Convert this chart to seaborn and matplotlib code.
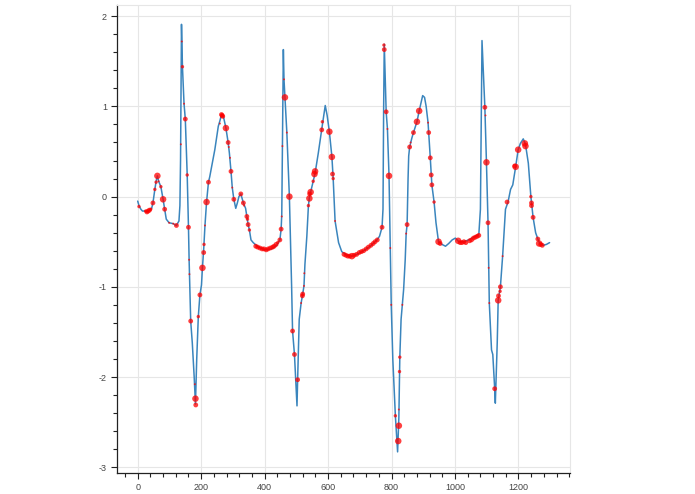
import numpy as np
import pandas as pd
import seaborn as sns
import matplotlib.pyplot as plt
from matplotlib.ticker import MultipleLocator, FuncFormatter

# line trace (x, y)
line_x = [0, 4, 10, 15, 22, 29, 38, 44, 48, 54, 58, 62, 66, 73, 80, 85, 90, 99, 112, 122,
          130, 133, 135, 138, 141, 146, 150, 156, 160, 162, 165, 167, 172, 178, 182, 186, 191, 196, 201, 204,
          208, 212, 217, 223, 227, 243, 254, 259, 264, 270, 278, 285, 289, 294, 298, 303, 309, 314, 319, 325,
          333, 340, 344, 348, 352, 357, 364, 380, 401, 422, 438, 448, 452, 454, 456, 459, 461, 464, 470, 478,
          485, 488, 494, 502, 504, 509, 515, 519, 524, 527, 533, 538, 541, 545, 550, 559, 569, 580, 583, 591,
          597, 604, 612, 616, 622, 633, 643, 659, 675, 691, 712, 733, 754, 762, 770, 773, 775, 777, 783, 787,
          792, 796, 799, 804, 812, 819, 823, 826, 830, 834, 838, 843, 846, 849, 852, 854, 857, 864, 869, 880,
          887, 898, 904, 909, 915, 917, 922, 925, 927, 934, 940, 948, 959, 970, 980, 991, 1001, 1012, 1027, 1043,
          1059, 1075, 1080, 1085, 1094, 1099, 1104, 1108, 1115, 1119, 1125, 1127, 1133, 1136, 1143, 1150, 1159, 1167, 1175, 1182,
          1191, 1199, 1206, 1215, 1222, 1231, 1239, 1246, 1254, 1261, 1267, 1278, 1288, 1298]
line_y = [-0.05, -0.10, -0.14, -0.16, -0.16, -0.17, -0.15, -0.13, -0.07, 0.08, 0.17, 0.23, 0.17, 0.11, -0.03, -0.14, -0.25, -0.29, -0.30, -0.32,
          -0.27, -0.10, 0.40, 1.91, 1.44, 1.03, 0.86, 0.24, -0.34, -0.70, -1.10, -1.38, -1.62, -2.00, -2.30, -1.80, -1.33, -1.09, -0.98, -0.79,
          -0.58, -0.32, -0.06, 0.16, 0.22, 0.52, 0.78, 0.84, 0.91, 0.89, 0.76, 0.60, 0.48, 0.28, 0.10, -0.03, -0.13, -0.07, 0.00, 0.03,
          -0.07, -0.13, -0.22, -0.31, -0.37, -0.48, -0.51, -0.56, -0.59, -0.58, -0.54, -0.48, -0.36, -0.20, 0.56, 1.63, 1.30, 1.10, 0.71, 0.00,
          -0.99, -1.49, -1.75, -2.32, -2.03, -1.36, -1.18, -1.10, -0.99, -0.75, -0.44, -0.10, -0.01, 0.05, 0.13, 0.26, 0.48, 0.75, 0.82, 1.01,
          0.90, 0.72, 0.44, 0.20, -0.27, -0.51, -0.61, -0.65, -0.66, -0.64, -0.60, -0.55, -0.48, -0.44, -0.34, -0.14, 0.96, 1.69, 0.94, 0.75,
          0.23, -0.57, -1.20, -1.81, -2.43, -2.83, -2.45, -1.78, -1.36, -1.20, -1.03, -0.70, -0.41, -0.31, 0.20, 0.45, 0.55, 0.65, 0.71, 0.83,
          0.95, 1.12, 1.10, 1.00, 0.82, 0.71, 0.43, 0.24, 0.13, -0.06, -0.29, -0.50, -0.53, -0.55, -0.52, -0.48, -0.46, -0.50, -0.50, -0.48,
          -0.45, -0.42, -0.14, 1.73, 0.99, 0.38, -0.29, -1.18, -1.70, -1.75, -2.13, -2.29, -1.62, -1.15, -1.00, -0.66, -0.14, -0.06, 0.08, 0.13,
          0.33, 0.52, 0.59, 0.64, 0.58, 0.37, 0.00, -0.23, -0.40, -0.47, -0.52, -0.54, -0.53, -0.51]

# red markers: x, y and size class (1 tiny .. 4 big)
pt_x = [4, 25, 29, 33, 37, 41, 48, 54, 58, 62, 66, 73, 80, 85, 99, 112, 122, 136, 139, 141,
        146, 150, 156, 160, 162, 163, 167, 180, 182, 183, 191, 196, 204, 208, 209, 212, 217, 223, 259, 264,
        266, 268, 278, 285, 287, 291, 294, 298, 303, 325, 333, 335, 344, 346, 348, 352, 372, 378, 385, 392,
        398, 405, 411, 418, 425, 430, 436, 441, 448, 452, 454, 456, 461, 464, 470, 478, 488, 494, 504, 515,
        519, 520, 524, 525, 538, 541, 542, 545, 553, 557, 559, 580, 582, 604, 612, 614, 616, 622, 650, 656,
        662, 668, 675, 682, 690, 698, 705, 712, 720, 727, 735, 742, 748, 755, 770, 776, 777, 783, 787, 792,
        796, 799, 812, 821, 823, 823, 825, 826, 834, 846, 849, 857, 860, 869, 880, 887, 915, 917, 922, 925,
        927, 934, 948, 953, 1010, 1016, 1022, 1028, 1034, 1046, 1052, 1058, 1064, 1070, 1075, 1094, 1096, 1099, 1104, 1106,
        1108, 1125, 1136, 1137, 1142, 1143, 1150, 1164, 1188, 1191, 1199, 1220, 1222, 1239, 1241, 1241, 1246, 1261, 1265, 1270,
        1275]
pt_y = [-0.11, -0.16, -0.17, -0.16, -0.15, -0.14, -0.07, 0.08, 0.16, 0.23, 0.17, 0.11, -0.03, -0.14, -0.29, -0.30, -0.32, 0.58, 1.72, 1.44,
        1.03, 0.86, 0.24, -0.34, -0.70, -0.86, -1.38, -2.08, -2.24, -2.31, -1.33, -1.09, -0.79, -0.62, -0.53, -0.32, -0.06, 0.16, 0.81, 0.91,
        0.90, 0.89, 0.76, 0.60, 0.55, 0.43, 0.28, 0.10, -0.03, 0.03, -0.07, -0.10, -0.22, -0.25, -0.31, -0.37, -0.55, -0.56, -0.57, -0.58,
        -0.58, -0.59, -0.58, -0.57, -0.56, -0.55, -0.53, -0.51, -0.48, -0.36, -0.22, 0.56, 1.30, 1.10, 0.71, 0.00, -1.49, -1.75, -2.03, -1.18,
        -1.10, -1.08, -0.99, -0.85, -0.10, -0.02, 0.03, 0.05, 0.17, 0.25, 0.28, 0.74, 0.83, 0.72, 0.44, 0.25, 0.20, -0.27, -0.64, -0.65,
        -0.66, -0.66, -0.66, -0.65, -0.64, -0.62, -0.61, -0.60, -0.58, -0.56, -0.54, -0.52, -0.50, -0.48, -0.34, 1.68, 1.63, 0.94, 0.75, 0.23,
        -0.57, -1.20, -2.43, -2.71, -2.54, -2.36, -1.94, -1.78, -1.20, -0.41, -0.31, 0.55, 0.60, 0.71, 0.83, 0.95, 0.82, 0.71, 0.43, 0.24,
        0.13, -0.06, -0.50, -0.52, -0.49, -0.51, -0.51, -0.50, -0.51, -0.49, -0.48, -0.46, -0.45, -0.44, -0.43, 0.99, 0.90, 0.38, -0.29, -0.79,
        -1.18, -2.13, -1.15, -1.10, -1.05, -1.00, -0.66, -0.06, 0.34, 0.33, 0.52, 0.59, 0.56, 0.00, -0.07, -0.10, -0.23, -0.47, -0.52, -0.53,
        -0.54]
pt_size = [2, 2, 3, 3, 3, 2, 3, 2, 2, 4, 1, 2, 4, 3, 1, 1, 3, 1, 1, 2,
           1, 3, 2, 3, 1, 1, 3, 1, 4, 3, 2, 3, 4, 3, 2, 1, 4, 3, 1, 3,
           3, 3, 4, 3, 1, 1, 3, 1, 3, 3, 3, 1, 3, 2, 3, 2, 3, 3, 3, 3,
           3, 3, 3, 3, 3, 3, 3, 2, 3, 3, 1, 1, 1, 4, 1, 4, 3, 3, 3, 1,
           3, 3, 1, 1, 2, 4, 3, 4, 2, 4, 4, 3, 2, 4, 4, 3, 2, 1, 3, 3,
           3, 3, 4, 3, 3, 3, 3, 3, 3, 3, 3, 3, 3, 3, 3, 2, 3, 3, 1, 4,
           1, 1, 2, 4, 4, 1, 2, 2, 1, 1, 3, 3, 1, 3, 4, 4, 1, 3, 3, 3,
           3, 2, 4, 3, 4, 3, 3, 3, 3, 3, 3, 3, 3, 3, 3, 3, 1, 4, 3, 1,
           1, 3, 4, 3, 2, 3, 1, 3, 3, 4, 4, 4, 4, 2, 3, 3, 3, 3, 4, 3,
           3]

line_df = pd.DataFrame({'x': line_x, 'y': line_y})
pts = pd.DataFrame({'x': pt_x, 'y': pt_y, 'size': pt_size})

sns.set_style('white')
plt.rcParams['font.family'] = ['Liberation Sans', 'DejaVu Sans']

fig, ax = plt.subplots(figsize=(6.95, 4.94), dpi=100)
fig.subplots_adjust(left=0.168, right=0.820, top=0.990, bottom=0.042)

sns.lineplot(data=line_df, x='x', y='y', ax=ax, color='#3a85bd', linewidth=1.1, zorder=2)
sns.scatterplot(data=pts, x='x', y='y', size='size', sizes={1: 2, 2: 6, 3: 12, 4: 22},
                color='red', alpha=0.75, linewidth=0, legend=False, ax=ax, zorder=3)

ax.set_xlim(-66, 1362)
ax.set_ylim(-3.067, 2.125)
ax.xaxis.set_major_locator(MultipleLocator(200))
ax.xaxis.set_minor_locator(MultipleLocator(40))
ax.yaxis.set_major_locator(MultipleLocator(1))
ax.yaxis.set_minor_locator(MultipleLocator(0.2))
ax.yaxis.set_major_formatter(FuncFormatter(lambda v, p: f'{int(round(v))}'))
ax.xaxis.set_major_formatter(FuncFormatter(lambda v, p: f'{int(round(v))}'))
ax.grid(True, which='major', color='#e6e6e6', linewidth=0.8)
ax.set_axisbelow(True)
ax.set_xlabel('')
ax.set_ylabel('')

# bokeh-like axes: dark left/bottom, faint outline
for s in ['left', 'bottom']:
    ax.spines[s].set_color('#222222')
    ax.spines[s].set_linewidth(0.9)
for s in ['top', 'right']:
    ax.spines[s].set_color('#e6e6e6')
    ax.spines[s].set_linewidth(0.8)

ax.tick_params(which='major', direction='out', length=4, width=0.8, color='#222222',
               labelsize=6.5, labelcolor='#444444', pad=3, left=True, bottom=True)
ax.tick_params(which='minor', direction='out', length=3, width=0.8, color='#222222',
               left=True, bottom=True)

plt.savefig('out.png', dpi=100)
